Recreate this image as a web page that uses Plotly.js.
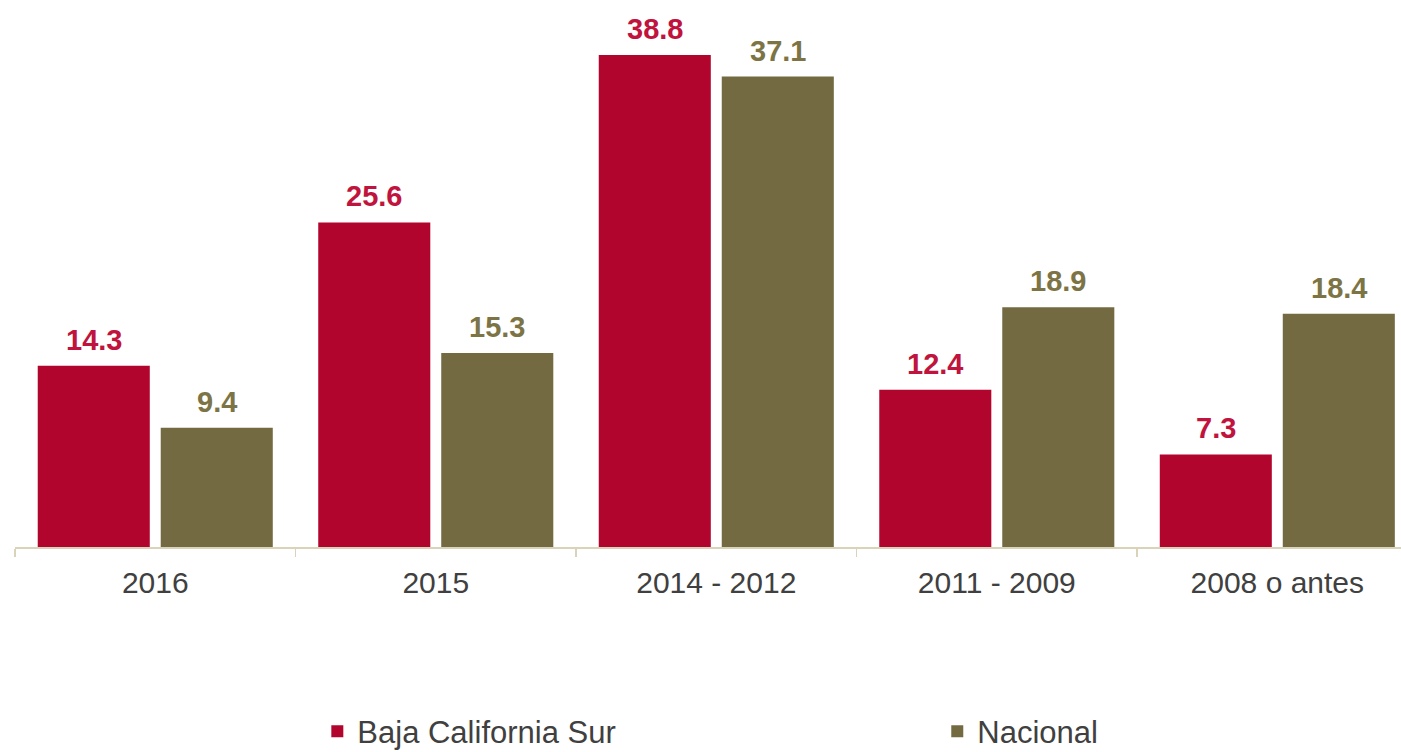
<!DOCTYPE html>
<html>
<head>
<meta charset="utf-8">
<script src="https://cdn.plot.ly/plotly-3.0.1.min.js"></script>
<style>html,body{margin:0;padding:0;background:#fff;}#chart{width:1401px;height:752px;}</style>
</head>
<body>
<div id="chart"></div>
<script>
var categories = ["2016", "2015", "2014 - 2012", "2011 - 2009", "2008 o antes"];
var seriesNames = ["Baja California Sur", "Nacional"];
var bcsValues = [14.3, 25.6, 38.8, 12.4, 7.3];
var nacValues = [9.4, 15.3, 37.1, 18.9, 18.4];

var barColors = ["#b1052d", "#736a41"];
var labelColors = ["#c0133d", "#7d7446"];

var traces = [
  {type: "bar", name: seriesNames[0], x: categories, y: bcsValues, marker: {color: barColors[0]}, hoverinfo: "skip", legend: "legend"},
  {type: "bar", name: seriesNames[1], x: categories, y: nacValues, marker: {color: barColors[1]}, hoverinfo: "skip", legend: "legend2"}
];

var annotations = [];
[bcsValues, nacValues].forEach(function (vals, s) {
  vals.forEach(function (v, i) {
    annotations.push({
      x: i, y: v, xref: "x", yref: "y",
      text: "<b>" + v.toFixed(1) + "</b>",
      showarrow: false, yanchor: "bottom", xanchor: "center",
      xshift: s === 0 ? -61.5 : 61.5, yshift: 8,
      font: {family: "Liberation Sans, Arial, sans-serif", size: 29, color: labelColors[s]}
    });
  });
});

var legendFont = {family: "Liberation Sans, Arial, sans-serif", size: 31, color: "#404040"};

var layout = {
  width: 1401, height: 752,
  margin: {l: 15, r: 0, t: 15, b: 205, pad: 0, autoexpand: false},
  paper_bgcolor: "#ffffff", plot_bgcolor: "#ffffff",
  barmode: "group", bargap: 0.123, bargroupgap: 0.089,
  showlegend: true,
  legend: {
    orientation: "h", xref: "container", x: 0.2265, xanchor: "left",
    yref: "container", y: 0.027, yanchor: "middle",
    font: legendFont, itemclick: false, itemdoubleclick: false
  },
  legend2: {
    orientation: "h", xref: "container", x: 0.669, xanchor: "left",
    yref: "container", y: 0.027, yanchor: "middle",
    font: legendFont, itemclick: false, itemdoubleclick: false
  },
  xaxis: {
    type: "category", range: [-0.5, 4.441], fixedrange: true,
    showline: true, linecolor: "#d9d4b9", linewidth: 1.5,
    ticks: "outside", tickson: "boundaries", ticklen: 8, tickcolor: "#d9d4b9", tickwidth: 1.5,
    ticklabelstandoff: 8,
    showgrid: false, zeroline: false,
    tickfont: {family: "Liberation Sans, Arial, sans-serif", size: 30, color: "#404040"}
  },
  yaxis: {
    range: [0, 41.96], visible: false, showgrid: false, zeroline: false, fixedrange: true
  },
  annotations: annotations,
  hovermode: false
};

Plotly.newPlot("chart", traces, layout, {staticPlot: true, displayModeBar: false});
</script>
</body>
</html>
